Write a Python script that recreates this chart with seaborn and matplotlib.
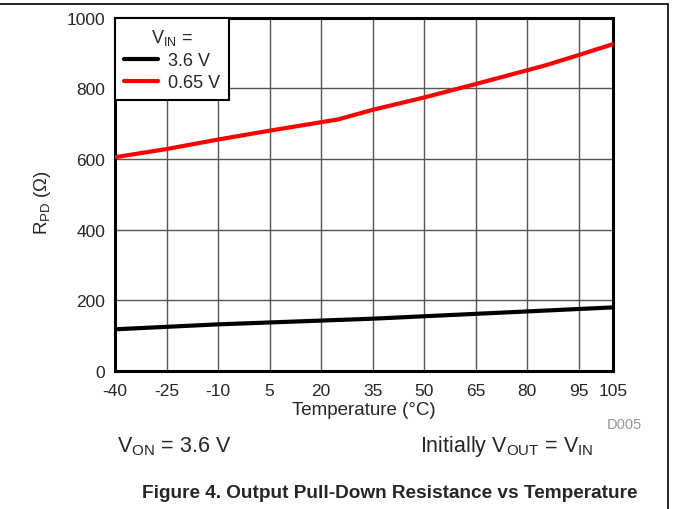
import pandas as pd
import numpy as np
import matplotlib
matplotlib.use('Agg')
import matplotlib.pyplot as plt
import seaborn as sns

# ── data ────────────────────────────────────────────────────
temp_36 = [-40, -10, 35, 105]
rpd_36 = [118, 132, 148, 180]

temp_065 = [-40, -25, -10, 5, 25, 35, 50, 65, 85, 95, 105]
rpd_065 = [605, 628, 655, 680, 712, 739, 774, 812, 864, 894, 925]

series_labels = ['3.6 V', '0.65 V']
x_ticks = [-40, -25, -10, 5, 20, 35, 50, 65, 80, 95, 105]
y_ticks = [0, 200, 400, 600, 800, 1000]

df = pd.concat([
    pd.DataFrame({'Temperature': temp_36, 'RPD': rpd_36, 'VIN': series_labels[0]}),
    pd.DataFrame({'Temperature': temp_065, 'RPD': rpd_065, 'VIN': series_labels[1]}),
])

# ── style ───────────────────────────────────────────────────
sns.set_style('white')
plt.rcParams['font.family'] = ['Liberation Sans', 'DejaVu Sans']
plt.rcParams['mathtext.fontset'] = 'custom'
plt.rcParams['mathtext.rm'] = 'Liberation Sans'
plt.rcParams['mathtext.it'] = 'Liberation Sans:italic'
plt.rcParams['mathtext.bf'] = 'Liberation Sans:bold'
plt.rcParams['axes.unicode_minus'] = False

fig = plt.figure(figsize=(6.73, 5.10), dpi=100)
ax = fig.add_axes([115 / 673, 1 - 372 / 510, 498 / 673, (372 - 18.6) / 510])

sns.lineplot(data=df, x='Temperature', y='RPD', hue='VIN',
             palette={'3.6 V': 'black', '0.65 V': '#ff0000'},
             linewidth=3, ax=ax, zorder=3)

ax.set_xlim(-40, 105)
ax.set_ylim(0, 1000)
ax.set_xticks(x_ticks)
ax.set_yticks(y_ticks)
ax.tick_params(axis='both', length=0, labelsize=12.5)
ax.tick_params(axis='x', pad=9)
ax.tick_params(axis='y', pad=7)
ax.grid(True, color='#555555', linewidth=1)
for s in ax.spines.values():
    s.set_color('black')
    s.set_linewidth(2.2)
    s.set_visible(True)

ax.set_xlabel('Temperature (°C)', fontsize=13.5, va='center')
ax.xaxis.set_label_coords(0.5, (372 - 411) / 353.4)
ax.set_ylabel(r'$\mathrm{R_{PD}}$ ($\Omega$)', fontsize=13.5, va='center')
ax.yaxis.set_label_coords((43 - 115) / 498, 0.48)

leg = ax.legend(title=r'$\mathrm{V_{IN}}$ =', loc='upper left',
                borderaxespad=0, fontsize=13, title_fontsize=13,
                handlelength=1.9, handletextpad=0.55, borderpad=0.5,
                labelspacing=0.3, fancybox=False, framealpha=1)
leg.get_frame().set_edgecolor('black')
leg.get_frame().set_linewidth(1.5)
for line in leg.get_lines():
    line.set_linewidth(3)

# ── annotations ─────────────────────────────────────────────
fig.text(642 / 673, 1 - 425 / 510, 'D005', fontsize=10.5, color='#999999',
         ha='right', va='center')
fig.text(117 / 673, 1 - 447 / 510, r'$\mathrm{V_{ON}}$ = 3.6 V', fontsize=15.5,
         ha='left', va='center')
fig.text(593 / 673, 1 - 447 / 510,
         r'Initially $\mathrm{V_{OUT}}$ = $\mathrm{V_{IN}}$', fontsize=15.5,
         ha='right', va='center')
fig.text(390 / 673, 1 - 494 / 510,
         'Figure 4. Output Pull-Down Resistance vs Temperature',
         fontsize=13.7, fontweight='bold', ha='center', va='center')

# page frame lines
fig.add_artist(plt.Line2D([0, 668 / 673], [1 - 5 / 510, 1 - 5 / 510],
                          transform=fig.transFigure, color='black', linewidth=1.2))
fig.add_artist(plt.Line2D([668 / 673, 668 / 673], [0, 1 - 5 / 510],
                          transform=fig.transFigure, color='black', linewidth=1.2))

fig.savefig('out.png', dpi=100)
